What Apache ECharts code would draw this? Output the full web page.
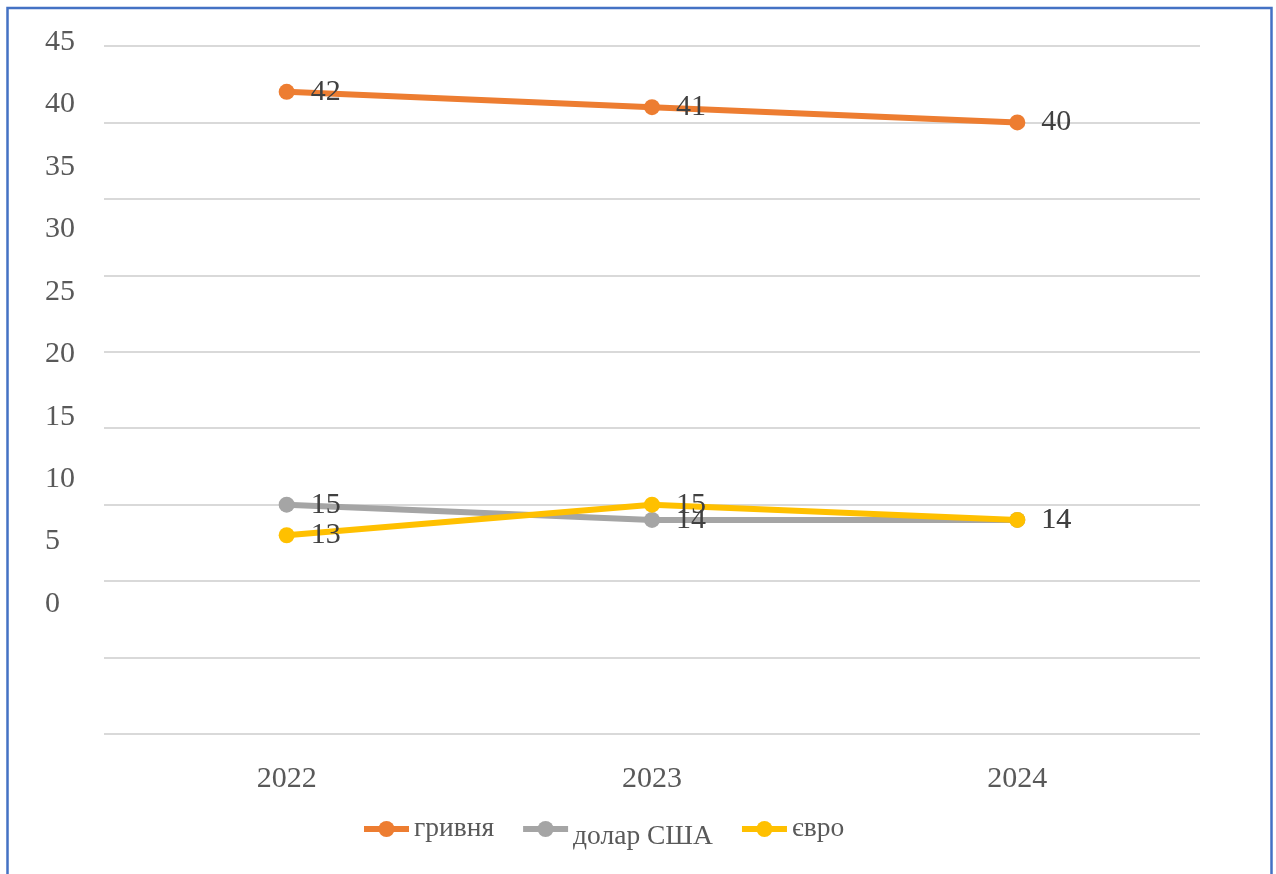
<!DOCTYPE html>
<html>
<head>
<meta charset="utf-8">
<script src="https://cdn.jsdelivr.net/npm/echarts@6/dist/echarts.min.js"></script>
<style>
  html, body { margin: 0; padding: 0; background: #ffffff; }
  #chart { width: 1276px; height: 874px; }
</style>
</head>
<body>
<div id="chart"></div>
<script>
// Years on the category axis
const years = ['2022', '2023', '2024'];

// Shares by currency
const hryvnia = [42, 41, 40];
const usd = [15, 14, 14];
const euro = [13, 15, 14];

const seriesNames = ['гривня', 'долар США', 'євро'];

// Value-axis tick labels
const yTicks = [0, 5, 10, 15, 20, 25, 30, 35, 40, 45];

const FONT = '"Liberation Serif", "Times New Roman", serif';

const chart = echarts.init(document.getElementById('chart'), null, { renderer: 'canvas' });

function lineSeries(name, data, color, z) {
  return {
    name: name,
    type: 'line',
    xAxisIndex: 0,
    yAxisIndex: 0,
    data: data,
    z: z,
    symbol: 'circle',
    symbolSize: 16,
    lineStyle: { color: color, width: 6 },
    itemStyle: { color: color },
    label: {
      show: true,
      position: 'right',
      distance: 16,
      color: '#404040',
      fontFamily: FONT,
      fontSize: 30
    },
    emphasis: { disabled: true },
    animation: false
  };
}

chart.setOption({
  backgroundColor: '#ffffff',
  animation: false,
  grid: [
    // plotting area
    { left: 104, right: 76, top: 46, bottom: 140 },
    // area used only for the value labels column
    { left: 104, right: 76, top: 42, bottom: 270 }
  ],
  xAxis: [
    {
      gridIndex: 0,
      type: 'category',
      data: years,
      boundaryGap: true,
      axisLine: { show: false },
      axisTick: { show: false },
      axisLabel: {
        margin: 30,
        color: '#595959',
        fontFamily: FONT,
        fontSize: 30
      }
    },
    {
      gridIndex: 1,
      type: 'category',
      data: years,
      show: false
    }
  ],
  yAxis: [
    {
      gridIndex: 0,
      type: 'value',
      min: 0,
      max: 45,
      interval: 5,
      axisLine: { show: false },
      axisTick: { show: false },
      axisLabel: { show: false },
      splitLine: { show: true, lineStyle: { color: '#D9D9D9', width: 2 } }
    },
    {
      gridIndex: 1,
      type: 'value',
      min: yTicks[0],
      max: yTicks[yTicks.length - 1],
      interval: yTicks[1] - yTicks[0],
      axisLine: { show: false },
      axisTick: { show: false },
      splitLine: { show: false },
      axisLabel: {
        align: 'left',
        margin: 59,
        color: '#595959',
        fontFamily: FONT,
        fontSize: 30
      }
    }
  ],
  legend: {
    data: seriesNames,
    left: 356,
    top: 810,
    itemWidth: 45,
    itemHeight: 20,
    itemGap: 26,
    lineStyle: { width: 6 },
    textStyle: {
      color: '#595959',
      fontFamily: FONT,
      fontSize: 27.5,
      rich: {
        n: { color: '#595959', fontFamily: FONT, fontSize: 27.5 },
        low: { color: '#595959', fontFamily: FONT, fontSize: 27.5, padding: [16, 0, 0, 0] }
      }
    },
    formatter: function (name) {
      return name === 'долар США' ? '{low|' + name + '}' : '{n|' + name + '}';
    }
  },
  graphic: [
    {
      type: 'rect',
      silent: true,
      shape: { x: 7.5, y: 8, width: 1264, height: 900 },
      style: { fill: 'none', stroke: '#4472C4', lineWidth: 2.5 }
    }
  ],
  series: [
    lineSeries(seriesNames[0], hryvnia, '#ED7D31', 2),
    lineSeries(seriesNames[1], usd, '#A5A5A5', 3),
    lineSeries(seriesNames[2], euro, '#FFC000', 4)
  ]
});
</script>
</body>
</html>
